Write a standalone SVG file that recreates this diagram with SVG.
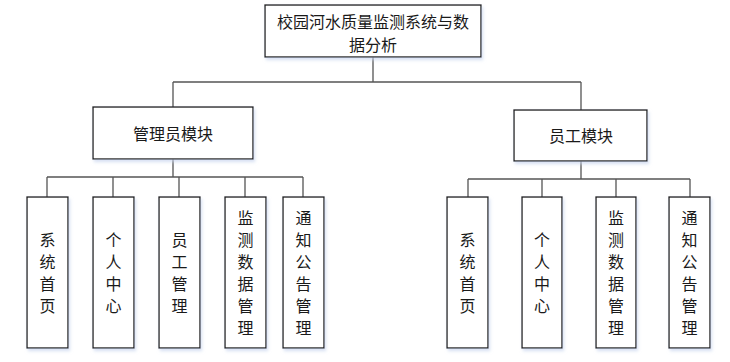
<svg xmlns="http://www.w3.org/2000/svg" width="730" height="362" viewBox="0 0 730 362">
<style>
.box{fill:#fff;stroke:#1a1a1a;stroke-width:1.3;filter:url(#sh)}
.t{font-family:"Noto Sans CJK SC","Noto Sans",sans-serif;font-size:16px;fill:#1a1a1a;text-anchor:middle;dominant-baseline:central}
.ln{fill:none;stroke:#555;stroke-width:1.3}
</style>
<defs>
<filter id="sh" x="-20%" y="-20%" width="140%" height="140%">
<feDropShadow dx="1.5" dy="2.5" stdDeviation="1.5" flood-color="#c8d4ee" flood-opacity="0.7"/>
</filter>
</defs>
<g id="connectors">
<path class="ln" d="M373 57V82M173 82H581M173 82V107M581 82V110"/>
<path class="ln" d="M173 159V177M47 177H303M47 177V197M113 177V197M179 177V197M245 177V197M303 177V197"/>
<path class="ln" d="M581 161V179M468 179H690M468 179V197M542 179V197M616 179V197M690 179V197"/>
</g>
<g id="root">
<rect class="box" x="265" y="5" width="216" height="52"/>
<text class="t" x="373" y="20.5">校园河水质量监测系统与数</text>
<text class="t" x="373" y="43.5">据分析</text>
</g>
<g id="admin">
<rect class="box" x="93" y="107" width="160" height="52"/>
<text class="t" x="173" y="133">管理员模块</text>
</g>
<g id="staff">
<rect class="box" x="514" y="110" width="133" height="51"/>
<text class="t" x="581" y="135">员工模块</text>
</g>
<g id="a1"><rect class="box" x="27" y="197" width="41" height="151"/>
<text class="t" x="47.5"><tspan x="47.5" y="239">系</tspan><tspan x="47.5" y="261">统</tspan><tspan x="47.5" y="283">首</tspan><tspan x="47.5" y="305">页</tspan></text></g>
<g id="a2"><rect class="box" x="93" y="197" width="41" height="151"/>
<text class="t"><tspan x="113.5" y="239">个</tspan><tspan x="113.5" y="261">人</tspan><tspan x="113.5" y="283">中</tspan><tspan x="113.5" y="305">心</tspan></text></g>
<g id="a3"><rect class="box" x="159" y="197" width="41" height="151"/>
<text class="t"><tspan x="179.5" y="239">员</tspan><tspan x="179.5" y="261">工</tspan><tspan x="179.5" y="283">管</tspan><tspan x="179.5" y="305">理</tspan></text></g>
<g id="a4"><rect class="box" x="225" y="197" width="41" height="151"/>
<text class="t"><tspan x="245.5" y="217">监</tspan><tspan x="245.5" y="239">测</tspan><tspan x="245.5" y="261">数</tspan><tspan x="245.5" y="283">据</tspan><tspan x="245.5" y="305">管</tspan><tspan x="245.5" y="327">理</tspan></text></g>
<g id="a5"><rect class="box" x="283" y="197" width="41" height="151"/>
<text class="t"><tspan x="303.5" y="217">通</tspan><tspan x="303.5" y="239">知</tspan><tspan x="303.5" y="261">公</tspan><tspan x="303.5" y="283">告</tspan><tspan x="303.5" y="305">管</tspan><tspan x="303.5" y="327">理</tspan></text></g>
<g id="s1"><rect class="box" x="447" y="197" width="41" height="151"/>
<text class="t"><tspan x="467.5" y="239">系</tspan><tspan x="467.5" y="261">统</tspan><tspan x="467.5" y="283">首</tspan><tspan x="467.5" y="305">页</tspan></text></g>
<g id="s2"><rect class="box" x="522" y="197" width="40" height="151"/>
<text class="t"><tspan x="542" y="239">个</tspan><tspan x="542" y="261">人</tspan><tspan x="542" y="283">中</tspan><tspan x="542" y="305">心</tspan></text></g>
<g id="s3"><rect class="box" x="596" y="197" width="40" height="151"/>
<text class="t"><tspan x="616" y="217">监</tspan><tspan x="616" y="239">测</tspan><tspan x="616" y="261">数</tspan><tspan x="616" y="283">据</tspan><tspan x="616" y="305">管</tspan><tspan x="616" y="327">理</tspan></text></g>
<g id="s4"><rect class="box" x="669" y="197" width="41" height="151"/>
<text class="t"><tspan x="689.5" y="217">通</tspan><tspan x="689.5" y="239">知</tspan><tspan x="689.5" y="261">公</tspan><tspan x="689.5" y="283">告</tspan><tspan x="689.5" y="305">管</tspan><tspan x="689.5" y="327">理</tspan></text></g>
</svg>
